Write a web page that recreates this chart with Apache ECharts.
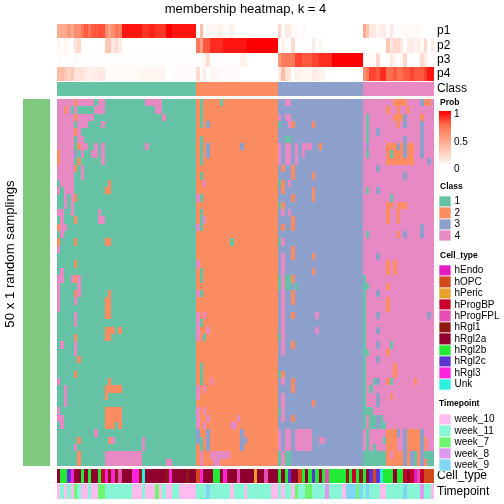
<!DOCTYPE html>
<html><head><meta charset="utf-8"><style>html,body{margin:0;padding:0;background:#fff}#c{width:504px;height:504px}</style>
<script src="https://cdn.jsdelivr.net/npm/echarts@6/dist/echarts.min.js"></script></head>
<body><div id="c"></div><script>
const classCounts = [41, 24, 25, 21];
const classLabels = ['1','2','3','4'];
const classColors = ['#66C2A5','#FC8D62','#8DA0CB','#E78AC3'];
const sideColor = ['#7FC97F'];
const probStops = ['#ffffff','#ffd0c0','#ffa184','#ff7050','#ff0000'];
const p1 = [.45,.45,.45,.55,.45,.6,.6,.72,.8,.72,.8,.8,.82,.82,.6,.5,.6,.72,.68,.95,.95,.95,.95,.95,.95,.88,.88,.92,.92,.88,.88,.88,1,1,.95,.95,.95,.95,.95,.95,.95,
 0,.35,0,.04,.04,.04,.08,.08,.02,.02,.08,0,0,0,0,0,0,0,0,0,0,0,0,0,
 .22,.03,.1,.1,.03,.03,0,.04,0,0,0,0,0,0,0,0,0,0,0,0,0,0,0,0,0,
 .45,.3,.12,.12,.05,.1,.1,0,.12,.02,.02,.02,.03,.03,.03,.03,.03,0,0,0,0];
const p2 = [.05,.01,.05,.01,.01,.15,.2,0,0,0,0,0,0,0,.3,.3,.12,.2,.1,0,0,0,0,0,0,0,0,0,0,0,0,0,0,0,0,0,0,0,0,0,0,
 .7,.5,.8,.8,.9,.9,.9,.9,.95,.95,.95,.95,.95,.95,.95,1,1,1,1,1,1,1,1,1,
 0,.07,0,0,.2,0,0,0,0,0,.1,0,.05,0,0,0,0,0,0,0,0,0,0,0,0,
 0,0,0,0,0,0,0,.3,.12,.2,.2,.12,0,.1,.1,.06,.1,.03,.2,0,.1];
const p3 = [.01,.01,.01,.01,.01,.03,.01,.01,.01,.01,.01,.01,.01,.01,.01,.01,.01,.01,.01,.01,.01,.01,.01,.01,.01,.01,.01,.01,.01,.01,.01,.01,.01,.01,.01,.01,.01,.01,.01,.01,.01,
 .01,.01,.05,.17,.01,.01,.01,.01,.01,.01,.01,.01,.01,.07,.07,0,0,0,0,0,0,0,0,0,
 .55,.68,.7,.7,.7,.85,.85,.8,.8,.8,.85,.85,.9,.9,.9,.9,1,1,1,1,1,1,1,1,1,
 0,.03,.03,.02,.2,0,0,0,.12,.05,0,.05,.2,0,0,0,0,.2,.1,0,.02];
const p4 = [.35,.35,.3,.22,.3,.15,.15,.15,.1,.08,.08,.1,.12,.12,.02,.02,.03,.03,.03,.03,.03,.03,.03,.03,.03,.05,.05,.05,.05,.05,.05,.05,0,0,.02,.02,.02,.02,.02,.02,.02,
 .2,.02,.1,0,.05,.05,.02,.02,.02,.02,.02,.02,.02,0,0,0,0,0,0,0,0,0,0,0,
 .1,.35,.15,.15,0,.07,.07,.05,.05,.05,.1,.1,.06,.06,0,0,0,0,0,0,0,0,0,0,0,
 .6,.7,.85,.85,.8,.9,.9,.75,.75,.8,.75,.75,.8,.8,.85,.8,.8,.8,.85,.95,.95];
const probLabels = ['p1','p2','p3','p4'];
// [row, firstCol, lastCol, class] cells that differ from the column's class
const off1 = [[0,0,4,4],[0,5,5,2],[0,6,10,4],[0,12,13,4],[0,26,30,4],[1,0,1,4],[1,2,2,2],[1,3,3,4],[1,5,5,4],[1,11,13,4],[1,29,30,4],[2,0,4,4],[2,5,5,2],[2,6,10,4],[2,31,31,4],[3,0,4,4],[3,6,8,4],[3,13,13,4],[4,0,4,4],[4,5,5,2],[4,6,6,4],[5,0,4,4],[5,6,7,4],[6,0,4,4],[6,6,6,2],[6,7,8,4],[6,11,11,4],[6,13,13,4],[6,26,26,4],[7,0,0,2],[7,1,4,4],[7,5,5,3],[7,7,7,4],[7,10,11,4],[7,13,13,4],[8,0,0,2],[8,1,4,4],[8,6,6,2],[8,13,13,4],[9,0,4,4],[9,5,5,2],[9,7,7,4],[10,0,4,4],[10,7,7,4],[11,1,4,4],[11,15,15,2],[12,0,0,4],[12,2,4,4],[12,14,15,2],[13,2,2,4],[13,4,4,4],[13,5,5,2],[14,2,2,4],[14,4,4,4],[15,0,1,4],[15,4,4,4],[15,12,12,4],[16,1,1,4],[16,5,5,2],[16,12,13,4],[17,0,0,2],[17,1,2,4],[18,1,1,4],[19,0,0,2],[19,5,5,2],[19,14,15,2],[20,0,0,4],[22,5,5,2],[23,1,1,4],[24,0,1,4],[24,4,4,4],[24,5,5,2],[24,6,6,4],[25,0,0,4],[25,6,6,4],[26,0,0,4],[26,5,5,2],[26,6,6,4],[26,15,15,2],[27,0,0,4],[27,5,5,4],[27,14,15,2],[28,0,0,4],[28,14,15,2],[29,5,5,4],[29,14,15,2],[30,5,5,4],[31,14,16,2],[31,18,18,2],[32,5,5,2],[32,14,15,2],[33,1,1,4],[33,5,5,4],[34,5,5,4],[35,6,6,2],[37,5,5,2],[38,0,0,4],[38,15,15,2],[39,2,2,4],[39,14,18,2],[40,2,2,4],[40,14,14,2],[41,2,2,4],[42,0,0,4],[42,14,18,2],[43,0,1,4],[43,14,18,2],[44,1,1,4],[44,14,16,2],[44,18,18,2],[45,11,11,4],[46,6,6,2],[46,15,15,2],[46,16,16,4],[46,25,25,4],[47,5,5,4],[47,25,25,4],[48,6,6,2],[48,14,24,4],[49,6,6,2],[49,14,24,4],[49,32,33,4]];
const off2 = [[0,42,42,1],[0,48,48,1],[1,42,42,1],[2,42,42,1],[3,42,42,1],[3,44,44,3],[5,42,42,1],[6,42,42,1],[6,44,44,3],[6,54,54,3],[7,42,42,1],[7,44,44,3],[8,42,42,1],[10,42,42,1],[11,43,43,4],[13,41,41,4],[13,42,42,1],[15,42,42,1],[16,42,42,1],[16,43,43,4],[17,41,41,4],[17,42,42,1],[19,51,51,1],[22,41,41,4],[23,42,42,1],[24,42,42,1],[26,41,41,4],[26,42,42,1],[29,41,41,4],[29,43,43,4],[30,41,41,4],[30,42,42,1],[31,41,41,4],[31,44,44,4],[32,41,41,4],[32,43,43,1],[36,42,42,1],[37,42,42,1],[38,42,42,1],[38,45,45,4],[39,41,41,4],[39,43,43,4],[40,41,41,4],[42,41,41,4],[42,43,43,4],[43,41,41,4],[43,44,44,4],[43,53,53,4],[44,41,41,4],[44,43,43,4],[44,51,52,4],[45,41,41,3],[45,44,44,3],[45,54,54,3],[46,41,41,3],[46,42,42,1],[46,44,44,3],[46,54,55,3],[47,42,42,1],[47,44,44,3],[47,54,54,3],[48,42,42,4],[48,45,50,4],[49,42,42,4],[49,46,47,4]];
const off3 = [[0,67,68,4],[2,65,65,4],[2,67,68,4],[3,65,65,1],[3,68,68,4],[3,69,69,2],[3,75,75,2],[5,67,68,1],[6,65,65,4],[6,67,68,4],[6,70,70,4],[6,72,74,4],[6,77,77,2],[7,65,65,4],[7,67,68,4],[7,70,70,4],[7,72,72,4],[8,65,65,4],[8,67,68,4],[8,70,70,4],[9,66,66,2],[9,69,69,2],[10,69,69,2],[10,75,75,2],[11,65,65,1],[11,66,66,2],[11,68,68,4],[12,66,66,2],[12,75,75,2],[13,69,69,2],[13,75,75,2],[14,65,65,1],[14,66,66,2],[15,66,66,4],[15,68,68,4],[16,69,69,2],[17,66,66,2],[17,69,69,2],[19,65,65,1],[19,66,66,4],[20,69,69,2],[21,66,66,4],[21,69,69,2],[21,75,75,2],[22,66,66,4],[23,66,66,4],[23,75,75,2],[24,65,65,1],[24,66,66,4],[24,67,68,1],[24,69,69,2],[25,65,65,1],[25,66,66,4],[25,67,68,1],[25,70,70,1],[26,66,66,4],[26,69,69,2],[27,66,66,4],[27,69,69,2],[28,66,66,4],[29,66,66,4],[29,69,69,2],[29,76,76,4],[30,66,66,4],[31,66,66,4],[31,76,76,4],[32,65,65,1],[32,66,66,4],[33,66,66,4],[33,69,69,2],[34,66,66,4],[37,65,65,1],[37,66,66,2],[38,66,66,4],[38,69,69,2],[39,69,69,2],[40,66,66,4],[41,66,66,4],[41,75,75,2],[42,65,65,1],[42,66,66,4],[43,66,66,4],[43,69,69,2],[45,65,65,4],[45,67,68,4],[45,70,74,4],[46,65,65,4],[46,67,68,4],[46,70,74,4],[46,77,78,4],[47,65,65,4],[47,67,68,4],[47,70,74,4],[48,65,65,1],[48,66,66,4],[48,67,68,1],[49,65,65,1],[49,66,66,4],[49,67,68,1]];
const off4 = [[0,99,102,2],[0,107,107,3],[0,108,109,2],[1,97,97,2],[1,100,100,2],[1,103,103,2],[2,91,91,1],[2,99,101,2],[2,102,102,3],[2,107,107,2],[3,91,91,1],[3,100,100,2],[3,102,102,3],[3,107,107,3],[4,91,91,1],[4,94,94,3],[4,107,107,3],[5,91,91,1],[5,102,102,3],[5,107,107,3],[6,91,91,3],[6,97,99,2],[6,100,100,3],[6,101,101,2],[6,102,102,3],[6,103,104,2],[6,107,107,3],[7,91,91,1],[7,97,97,2],[7,98,98,1],[7,99,101,2],[7,102,102,3],[7,103,104,2],[7,107,107,3],[8,97,104,2],[8,109,109,3],[9,94,94,3],[10,102,102,3],[12,91,91,1],[12,94,94,3],[13,98,98,1],[14,97,98,2],[14,100,102,2],[15,97,97,2],[15,100,100,2],[16,97,97,2],[16,100,100,2],[17,107,107,3],[18,91,91,1],[18,100,100,2],[18,102,102,3],[18,107,107,3],[21,94,94,3],[22,97,97,2],[22,99,99,2],[23,97,97,2],[23,99,99,2],[24,90,90,1],[25,90,91,1],[25,97,97,2],[26,90,90,1],[26,94,94,3],[27,90,90,1],[27,97,97,2],[28,90,90,1],[28,97,97,2],[29,90,90,1],[29,94,94,3],[29,109,109,3],[30,90,90,1],[31,90,90,1],[31,94,94,3],[32,90,90,1],[33,90,90,1],[33,94,94,3],[33,98,98,1],[34,90,91,1],[34,97,97,2],[35,90,90,1],[35,94,94,3],[36,90,90,1],[36,99,99,2],[37,90,90,1],[37,99,99,2],[38,90,90,1],[38,93,93,1],[38,94,94,3],[38,97,97,2],[38,98,98,1],[38,105,105,2],[39,90,90,1],[39,92,92,1],[40,90,90,1],[40,94,94,3],[40,98,98,2],[41,90,90,1],[41,94,94,3],[42,90,92,1],[43,90,90,1],[43,92,93,1],[43,94,94,3],[43,95,95,1],[44,90,90,1],[44,92,93,1],[44,94,94,3],[44,95,96,1],[45,90,90,4],[45,91,91,1],[45,97,99,2],[45,100,100,3],[45,102,102,3],[45,103,106,2],[45,107,107,3],[46,91,91,1],[46,96,96,1],[46,97,99,2],[46,102,102,3],[46,103,106,2],[46,107,107,3],[46,108,108,2],[47,91,91,1],[47,93,93,1],[47,97,99,2],[47,102,102,3],[47,103,106,2],[47,107,107,3],[47,108,108,2],[48,90,96,1],[48,97,97,2],[48,98,98,4],[48,99,101,2],[48,102,102,3],[48,103,103,2],[48,104,104,3],[48,105,105,1],[48,106,106,2],[48,107,107,3],[48,108,109,1],[48,110,110,1],[49,90,96,1],[49,97,101,2],[49,102,102,3],[49,103,103,2],[49,104,104,3],[49,105,105,1],[49,106,106,2],[49,107,107,3],[49,108,108,2],[49,109,110,1]];
const cellTypeNames = ['hEndo','hOPC','hPeric','hProgBP','hProgFPL','hRgl1','hRgl2a','hRgl2b','hRgl2c','hRgl3','Unk'];
const cellTypeColors = ['#E31BC2','#D2491E','#E8A02B','#C4002B','#E64DB4','#8E1A14','#8F002F','#22E836','#5B34D2','#FF22DD','#2CEFDD'];
const cellTypeRuns = [[6,1],[7,2],[8,1],[9,1],[6,2],[7,1],[6,1],[7,1],[6,2],[7,1],[3,1],[9,1],[5,1],[9,1],[5,1],[4,1],[6,3],[9,2],[5,1],[10,1],[6,6],[5,1],[9,1],[6,4],[5,1],[6,2],
 [1,1],[9,1],[6,3],[7,2],[6,1],[9,1],[6,3],[4,1],[6,4],[2,1],[6,2],[4,1],[6,3],
 [7,1],[6,1],[7,1],[8,1],[6,2],[1,1],[7,1],[6,1],[7,1],[8,1],[7,1],[6,1],[7,1],[4,1],[7,5],[5,1],[7,1],[3,1],[7,1],[5,1],[7,1],[6,1],[8,1],[1,1],[8,1],[10,1],[7,3],[6,1],[7,2],[3,1],[6,1],[3,1],[0,1],[4,1],[3,1],[1,3]];
const timeNames = ['week_10','week_11','week_7','week_8','week_9'];
const timeColors = ['#FFBBEE','#88F5D5','#70F570','#DD99EE','#80D5F5'];
const timeRuns = [[0,1],[1,1],[0,1],[1,1],[0,1],[2,1],[1,1],[0,2],[1,1],[0,2],[2,2],[1,8],[0,3],[1,1],[0,3],[2,1],[0,1],[1,1],[0,2],[1,2],[0,5],
 [1,3],[4,1],[1,6],[0,1],[1,3],[0,1],[1,7],[0,2],[1,1],[0,1],[1,2],[0,1],[2,1],[1,2],[2,2],[1,4],[3,1],[1,4],[0,1],[4,3],[2,1],[4,1],[1,1],[4,1],[1,3],[0,2],[1,5],[4,1],[1,4],[3,1],[1,2],[0,1]];
const titleText = 'membership heatmap, k = 4';
const sideTitle = '50 x 1 random samplings';
const sideInner = 'top 734 rows';

const TXT = 'Liberation Sans';
const nCols = classCounts.reduce((a,b)=>a+b,0), nRows = 50;
const colClass = []; classCounts.forEach((n,i)=>{for(let k=0;k<n;k++)colClass.push(i);});
const matrix = Array.from({length:nRows},()=>colClass.slice());
[off1,off2,off3,off4].forEach(list=>list.forEach(([r,a,b,c])=>{for(let k=a;k<=b;k++)matrix[r][k]=c-1;}));
const expand = runs => runs.flatMap(([v,n])=>Array(n).fill(v));
const cellType = expand(cellTypeRuns), timepoint = expand(timeRuns);
const range = n => Array.from({length:n},(_,i)=>String(i));

function cellRenderer(palette,stroke){
  return function(params,api){
    const p=api.coord([api.value(0),api.value(1)]), s=api.size([1,1]);
    const x0=Math.round(p[0]-s[0]/2), x1=Math.round(p[0]+s[0]/2);
    const y0=Math.round(p[1]-s[1]/2), y1=Math.round(p[1]+s[1]/2);
    const fill=palette?palette[api.value(2)]:api.visual('color');
    return {type:'rect',shape:{x:x0,y:y0,width:x1-x0,height:y1-y0},
      style:stroke?{fill,stroke,lineWidth:1}:{fill}};
  };
}
const grids=[],xAxes=[],yAxes=[],series=[],probSeries=[];
function addGrid(box,xs,ys,data,palette,labelOpt,inverse,stroke){
  const g=grids.length;
  grids.push(Object.assign({containLabel:false},box));
  xAxes.push({type:'category',gridIndex:g,data:xs,show:false});
  yAxes.push({type:'category',gridIndex:g,data:ys,inverse:!!inverse,position:'right',
    axisLine:{show:false},axisTick:{show:false},splitLine:{show:false},splitArea:{show:false},
    axisLabel:labelOpt?Object.assign({show:true,fontFamily:TXT,color:'#000',interval:0},labelOpt):{show:false}});
  series.push({type:'custom',xAxisIndex:g,yAxisIndex:g,data,coordinateSystem:'cartesian2d',clip:false,silent:true,
    animation:false,encode:{x:0,y:1},renderItem:cellRenderer(palette,stroke)});
  return series.length-1;
}
const cols=range(nCols);
const L=57,W=377;
const stripLabel={fontSize:12,margin:3};
const strip=arr=>arr.map((v,c)=>[c,0,v]);
[p1,p2,p3,p4].forEach((arr,i)=>{
  probSeries.push(addGrid({left:L,width:W,top:24+14.25*i,height:14.25},cols,[probLabels[i]],strip(arr),null,stripLabel));
});
addGrid({left:L,width:W,top:82,height:14},cols,['Class'],strip(colClass),classColors,stripLabel);
const mainData=[];matrix.forEach((row,r)=>row.forEach((v,c)=>mainData.push([c,r,v])));
addGrid({left:L,width:W,top:99,height:367},cols,range(nRows),mainData,classColors,null,true);
addGrid({left:L,width:W,top:469,height:14},cols,['Cell_type'],strip(cellType),cellTypeColors,stripLabel);
addGrid({left:L,width:W,top:484,height:15},cols,['Timepoint'],strip(timepoint),timeColors,stripLabel);
addGrid({left:23,width:27,top:99,height:367},['0'],['0'],[[0,0,0]],sideColor);
function legend(top,names,pal){
  addGrid({left:439,width:11.5,top,height:11.36*names.length},['0'],names,names.map((n,i)=>[0,i,i]),pal,{fontSize:10,margin:4},true,'rgba(255,255,255,0.7)');
}
legend(196,classLabels,classColors);
legend(265,cellTypeNames,cellTypeColors);
legend(414,timeNames,timeColors);
const barVals=[];for(let i=0;i<=55;i++)barVals.push(1-i/55);
probSeries.push(addGrid({left:439,width:12,top:111,height:56},['0'],range(barVals.length),barVals.map((v,i)=>[0,i,v]),null,null,true));

const t=(text,x,y,extra)=>({type:'text',x,y,silent:true,style:Object.assign({text,fontFamily:TXT,fill:'#000',textAlign:'left',textVerticalAlign:'middle'},extra)});
const tick=(x,y)=>({type:'rect',silent:true,shape:{x,y,width:3,height:1},style:{fill:'#fff'}});
const graphic=[
  t(titleText,245.5,9,{fontSize:13,textAlign:'center'}),
  t('Prob',440,103,{fontSize:8.5,fontWeight:'bold'}),
  t('Class',440,187,{fontSize:8.5,fontWeight:'bold'}),
  t('Cell_type',440,256,{fontSize:8.5,fontWeight:'bold'}),
  t('Timepoint',439,404,{fontSize:8.5,fontWeight:'bold'}),
  t('1',454,114,{fontSize:10}),t('0.5',454,142,{fontSize:10}),t('0',454,169,{fontSize:10}),
  tick(439,141),tick(448,141),tick(439,113),tick(448,113),
  {type:'text',silent:true,x:10.5,y:254,rotation:Math.PI/2,style:{text:sideTitle,fontFamily:TXT,fontSize:13.2,fill:'#000',textAlign:'center',textVerticalAlign:'middle'}},
  {type:'text',silent:true,x:38.5,y:283,rotation:Math.PI/2,style:{text:sideInner,fontFamily:TXT,fontSize:10,fill:'#000',textAlign:'center',textVerticalAlign:'middle'}}
];
const chart=echarts.init(document.getElementById('c'),null,{renderer:'canvas'});
chart.setOption({animation:false,backgroundColor:'#fff',grid:grids,xAxis:xAxes,yAxis:yAxes,series,graphic,
  visualMap:[{type:'continuous',show:false,min:0,max:1,seriesIndex:probSeries,dimension:2,inRange:{color:probStops}}]});
</script></body></html>
